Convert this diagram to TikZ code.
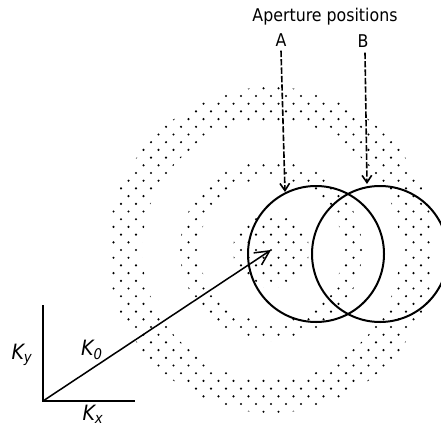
\documentclass[tikz,border=0pt]{standalone}
\usepackage{fontspec}
\setmainfont{DejaVu Sans Condensed}
\usepackage{tikz}
\usetikzlibrary{arrows.meta}
\tikzset{
  ap/.style={draw,line width=0.5mm},
  axis/.style={draw,line width=0.5mm},
  lab/.style={font=\fontsize{12.5}{14}\selectfont,inner sep=0pt},
  klab/.style={font=\fontsize{15}{17}\selectfont\itshape,inner sep=0pt},
  darr/.style={line width=0.4mm,dash pattern=on 1.6mm off 0.5mm,-{Straight Barb[length=1.8mm,width=2.4mm]}},
  karr/.style={line width=0.38mm,-{Straight Barb[length=3.6mm,width=3.6mm]}},
  spot/.style={fill=black},
}
\begin{document}
\begin{tikzpicture}[x=0.25mm,y=-0.25mm]
\useasboundingbox (0,0) rectangle (441,428);
\coordinate (C) at (271,250);
\coordinate (O) at (43,401);
% dots of the pattern
\begin{scope}[even odd rule]
\clip (C) circle (163) (C) circle (129) (C) circle (91) (C) circle (72) (C) circle (38);
\foreach \i in {-22,...,22}{
  \foreach \j in {-12,...,12}{
    \fill[spot] ({271+15*\j+7.5*mod(\i,2)},{250+7.7*\i}) circle (1.2);
  }
}
\end{scope}
% apertures
\draw[ap] (316,254) circle (68);
\draw[ap] (380,254) circle (68);
\node[lab] (title) at (325,17) {Aperture positions};
\node[lab] (apA) at (281,40) {A};
\node[lab] (apB) at (363,41) {B};
\coordinate (tipA) at (285,192);
\coordinate (tipB) at (367,184);
\draw[darr] (apA.south) ++(0,4) -- (tipA);
\draw[darr] (apB.south) ++(2,5) -- (tipB);
% axes
\coordinate (ytop) at (43,305);
\coordinate (xend) at (135,401);
\draw[axis] (ytop) -- (O) -- (xend);
\draw[karr] (O) -- (C);
\node[klab] (ky) at (22,355) {K\textsubscript{y}};
\node[klab] (k0) at (92,350) {K\textsubscript{0}};
\node[klab] (kx) at (93,414) {K\textsubscript{x}};
\end{tikzpicture}
\end{document}
